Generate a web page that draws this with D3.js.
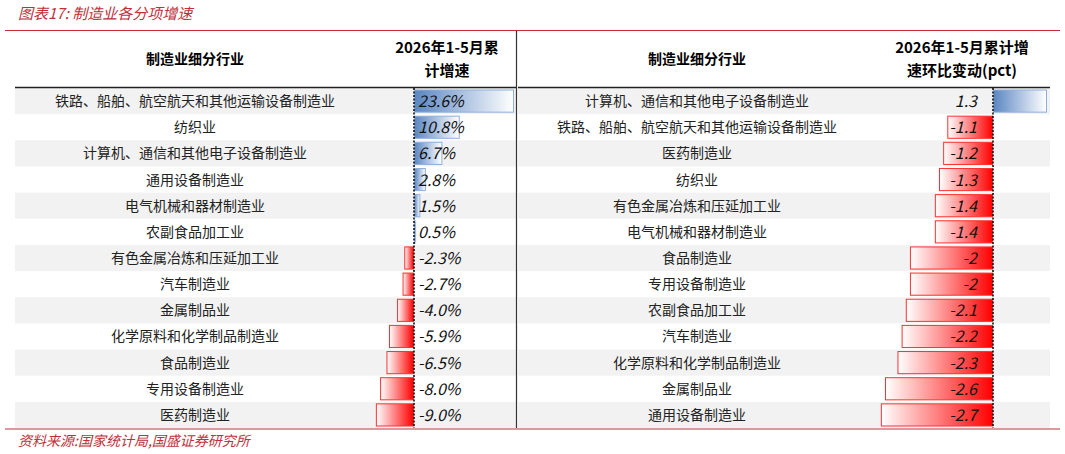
<!DOCTYPE html>
<html><head><meta charset="utf-8">
<script src="https://cdn.jsdelivr.net/npm/d3@7"></script>
<style>body{margin:0;background:#fff}text{font-family:"Noto Sans CJK SC","DejaVu Sans",sans-serif}</style>
</head><body><svg id="c" width="1065" height="454"></svg>
<script>
const leftNames = ['铁路、船舶、航空航天和其他运输设备制造业','纺织业','计算机、通信和其他电子设备制造业','通用设备制造业','电气机械和器材制造业','农副食品加工业','有色金属冶炼和压延加工业','汽车制造业','金属制品业','化学原料和化学制品制造业','食品制造业','专用设备制造业','医药制造业'];
const leftVals = [23.6,10.8,6.7,2.8,1.5,0.5,-2.3,-2.7,-4.0,-5.9,-6.5,-8.0,-9.0];
const rightNames = ['计算机、通信和其他电子设备制造业','铁路、船舶、航空航天和其他运输设备制造业','医药制造业','纺织业','有色金属冶炼和压延加工业','电气机械和器材制造业','食品制造业','专用设备制造业','农副食品加工业','汽车制造业','化学原料和化学制品制造业','金属制品业','通用设备制造业'];
const rightVals = [1.3,-1.1,-1.2,-1.3,-1.4,-1.4,-2,-2,-2.1,-2.2,-2.3,-2.6,-2.7];

const svg = d3.select('#c');
const red = '#c0303a';
const rowTop = 88, rowBottom = 428;
const y = d3.scaleBand().domain(d3.range(13)).range([rowTop, rowBottom]);
const defs = svg.append('defs');
function grad(id, c, flip) {
  const g = defs.append('linearGradient').attr('id', id).attr('x1', flip ? 1 : 0).attr('x2', flip ? 0 : 1);
  g.append('stop').attr('offset', 0).attr('stop-color', c);
  g.append('stop').attr('offset', 1).attr('stop-color', '#fff');
}
grad('gp', '#5a86c2', false);
grad('gn', '#ff0000', true);

svg.append('text').attr('x', 18).attr('y', 19).attr('fill', red).attr('font-size', 15).attr('font-style', 'italic').text('图表17:  制造业各分项增速');
svg.append('line').attr('x1', 5).attr('x2', 1060).attr('y1', 30.5).attr('y2', 30.5).attr('stroke', red).attr('stroke-width', 1.2);
svg.append('line').attr('x1', 5).attr('x2', 1060).attr('y1', 429).attr('y2', 429).attr('stroke', red).attr('stroke-width', 1.2);
svg.append('text').attr('x', 18).attr('y', 446).attr('fill', red).attr('font-size', 14).attr('font-style', 'italic').text('资料来源:国家统计局,国盛证券研究所');

function table(names, vals, x0, x1, labelX, xs, fmt, valX, valAnchor, hdr) {
  svg.selectAll(null).data(d3.range(13).filter(i => i % 2 === 0)).join('rect')
    .attr('x', x0).attr('width', x1 - x0).attr('y', i => y(i)).attr('height', y.bandwidth()).attr('fill', '#f2f2f2');
  svg.append('line').attr('x1', x0).attr('x2', x1).attr('y1', rowTop - 0.5).attr('y2', rowTop - 0.5).attr('stroke', '#222').attr('stroke-width', 1.3);
  svg.append('text').attr('x', labelX).attr('y', 64).attr('text-anchor', 'middle').attr('font-size', 14).attr('font-weight', 'bold').text('制造业细分行业');
  hdr.forEach((t, i) => svg.append('text').attr('x', hdr.cx).attr('y', 53 + i * 23).attr('text-anchor', 'middle').attr('font-size', 15).attr('font-weight', 'bold').text(t));
  svg.selectAll(null).data(names).join('text').attr('x', labelX).attr('y', (d, i) => y(i) + y.bandwidth() / 2 + 5)
    .attr('text-anchor', 'middle').attr('font-size', 14).attr('fill', '#222').text(d => d);
  svg.selectAll(null).data(vals).join('rect')
    .attr('x', d => Math.min(xs(d), xs(0)) + 0.5).attr('width', d => Math.abs(xs(d) - xs(0)) - 1)
    .attr('y', (d, i) => y(i) + 2).attr('height', y.bandwidth() - 4)
    .attr('fill', d => d >= 0 ? 'url(#gp)' : 'url(#gn)')
    .attr('stroke', d => d >= 0 ? '#8fb0dc' : '#ff3030').attr('stroke-width', 1);
  svg.append('line').attr('x1', xs(0)).attr('x2', xs(0)).attr('y1', rowTop).attr('y2', rowBottom).attr('stroke', '#000').attr('stroke-dasharray', '2,1.5').attr('stroke-width', 1.5);
  svg.selectAll(null).data(vals).join('text').attr('x', valX).attr('y', (d, i) => y(i) + y.bandwidth() / 2 + 6)
    .attr('text-anchor', valAnchor).attr('font-size', 16).attr('font-style', 'italic').attr('fill', '#111').text(fmt);
}
const xl = d3.scaleLinear().domain([0, 23.6]).range([414, 514]);
const h1 = ['2026年1-5月累', '计增速']; h1.cx = 447;
table(leftNames, leftVals, 15, 516, 195, xl, d => d.toFixed(1) + '%', 418, 'start', h1);
const xr = d3.scaleLinear().domain([0, 1.3]).range([993, 1047]);
const h2 = ['2026年1-5月累计增', '速环比变动(pct)']; h2.cx = 962;
table(rightNames, rightVals, 518, 1050, 697, xr, d => String(d), 977, 'end', h2);
svg.append('line').attr('x1', 516.5).attr('x2', 516.5).attr('y1', 31).attr('y2', 428).attr('stroke', '#333').attr('stroke-width', 1.2);
</script></body></html>
